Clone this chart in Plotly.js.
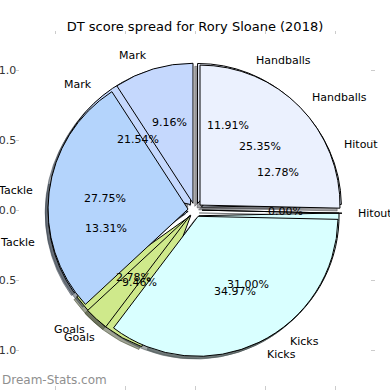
<!DOCTYPE html>
<html>
<head>
<meta charset="utf-8">
<script src="https://cdn.plot.ly/plotly-3.0.1.min.js"></script>
<style>html,body{margin:0;padding:0;background:#fff;}#chart{width:390px;height:390px;}</style>
</head>
<body>
<div id="chart"></div>
<script>
// ---- data ----
const categories = ['Handballs', 'Hitout', 'Kicks', 'Goals', 'Tackle', 'Mark'];
const pctTop = [25.35, 0.00, 34.97, 2.78, 27.75, 9.16];     // pie drawn on top
const pctUnder = [11.91, 12.78, 31.00, 9.46, 13.31, 21.54]; // pie drawn underneath
const sliceColors = ['#ebf1fe', '#e4eefd', '#d9ffff', '#cfe98b', '#b4d4fc', '#c5d8fd'];
const yTickVals = [-1, -0.5, 0, 0.5, 1];
const yTickText = ['\u22121.0', '\u22120.5', '0.0', '0.5', '1.0'];
const xTickVals = [-1, -0.5, 0, 0.5, 1];
const xTickText = ['\u22121.0', '\u22120.5', '0.0', '0.5', '1.0'];
const titleText = 'DT score spread for Rory Sloane (2018)';
const watermark = 'Dream-Stats.com';

// ---- geometry / style ----
const explode = 0.05, labelDist = 1.1, pctDist = 0.6, span = 2.5; // axis spans -1.25..1.25
const W = 390, H = 390, M = {l: 20, r: 20, t: 35, b: 5};
const half = (1 + explode) / span;
const dom = [0.5 - half, 0.5 + half];
const sh = 0.02 / span;
const font = 'DejaVu Sans, Liberation Sans, sans-serif';

function shadowColor(hex) {
  const r = parseInt(hex.slice(1, 3), 16), g = parseInt(hex.slice(3, 5), 16), b = parseInt(hex.slice(5, 7), 16);
  return 'rgba(' + Math.round(r * 0.3) + ',' + Math.round(g * 0.3) + ',' + Math.round(b * 0.3) + ',0.5)';
}
const shadowColors = sliceColors.map(shadowColor);
const pulls = categories.map(() => explode);

function pieTrace(vals, colors, lineColor, dx, dy) {
  return {
    type: 'pie', values: vals, labels: categories, sort: false, direction: 'clockwise', rotation: 0,
    pull: pulls, textinfo: 'none', hoverinfo: 'skip', showlegend: false,
    marker: {colors: colors, line: {color: lineColor || colors, width: 1}},
    domain: {x: [dom[0] + dx, dom[1] + dx], y: [dom[0] + dy, dom[1] + dy]}
  };
}

const traces = [
  {type: 'scatter', x: [null], y: [null], mode: 'markers', showlegend: false, hoverinfo: 'skip'},
  pieTrace(pctUnder, shadowColors, shadowColors, -sh, -sh),
  pieTrace(pctTop, shadowColors, shadowColors, -sh, -sh),
  pieTrace(pctUnder, sliceColors, '#000', 0, 0),
  pieTrace(pctTop, sliceColors, '#000', 0, 0)
];

// labels and percentages placed from each slice's mid angle
const annotations = [];
function addTexts(vals) {
  const total = vals.reduce((a, b) => a + b, 0);
  let cum = 0;
  vals.forEach((v, i) => {
    const mid = (90 - 360 * (cum + v / 2) / total) * Math.PI / 180;
    cum += v;
    const c = Math.cos(mid), s = Math.sin(mid);
    const lx = (labelDist + explode) * c, ly = (labelDist + explode) * s;
    annotations.push({xref: 'x', yref: 'y', x: lx, y: ly, text: categories[i], showarrow: false,
      xanchor: lx > 0 ? 'left' : 'right', yanchor: 'middle', font: {family: font, size: 11, color: '#000'}});
    annotations.push({xref: 'x', yref: 'y', x: (pctDist + explode) * c, y: (pctDist + explode) * s,
      text: v.toFixed(2) + '%', showarrow: false, xanchor: 'center', yanchor: 'middle',
      font: {family: font, size: 11, color: '#000'}});
  });
}
addTexts(pctUnder);
addTexts(pctTop);
annotations.push({xref: 'paper', yref: 'paper', x: -M.l / (W - M.l - M.r), y: 5 / (H - M.t - M.b),
  xanchor: 'left', yanchor: 'middle', text: watermark, showarrow: false,
  font: {family: font, size: 12, color: '#8f8f8f'}});

const axisCommon = {range: [-1.25, 1.25], autorange: false, showgrid: false, zeroline: false, showline: false,
  ticks: 'outside', ticklen: 3.5, tickwidth: 1, tickcolor: '#cccccc', mirror: 'ticks',
  tickfont: {family: font, size: 11, color: '#333'}, fixedrange: true};

const layout = {
  width: W, height: H, margin: M, paper_bgcolor: '#fff', plot_bgcolor: '#fff',
  title: {text: titleText, x: 0.5, xref: 'paper', xanchor: 'center', y: 1 - 26 / H, yanchor: 'middle',
    font: {family: font, size: 13, color: '#000'}},
  xaxis: Object.assign({}, axisCommon, {tickvals: xTickVals, ticktext: xTickText, ticklabelstandoff: -2}),
  yaxis: Object.assign({}, axisCommon, {tickvals: yTickVals, ticktext: yTickText, ticklabelstandoff: -3}),
  annotations: annotations,
  showlegend: false
};

Plotly.newPlot('chart', traces, layout, {staticPlot: true, displayModeBar: false});
</script>
</body>
</html>
